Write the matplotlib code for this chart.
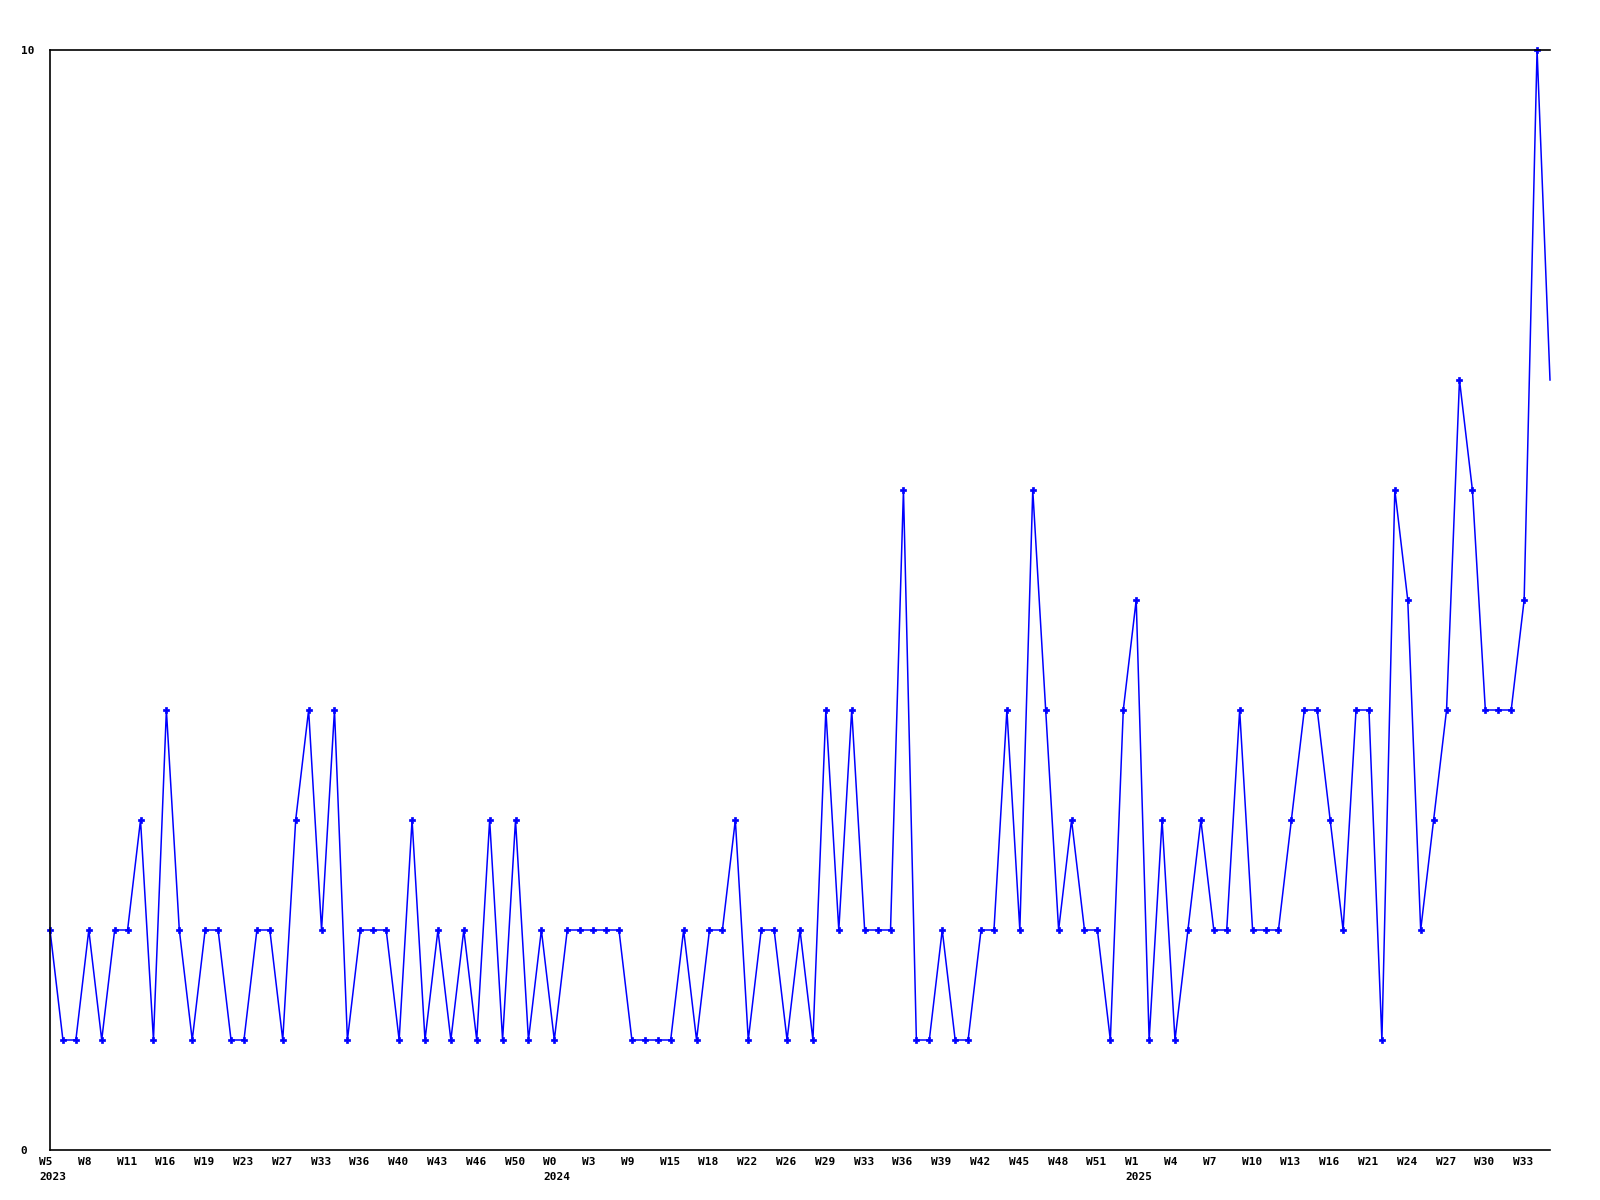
import matplotlib
matplotlib.use('Agg')
import matplotlib.pyplot as plt
import matplotlib.transforms as mtransforms

# weekly counts (weeks without entries are not plotted)
values = [2, 1, 1, 2, 1, 2, 2, 3, 1, 4, 2, 1, 2, 2, 1, 1, 2, 2, 1, 3,
          4, 2, 4, 1, 2, 2, 2, 1, 3, 1, 2, 1, 2, 1, 3, 1, 3, 1, 2, 1,
          2, 2, 2, 2, 2, 1, 1, 1, 1, 2, 1, 2, 2, 3, 1, 2, 2, 1, 2, 1,
          4, 2, 4, 2, 2, 2, 6, 1, 1, 2, 1, 1, 2, 2, 4, 2, 6, 4, 2, 3,
          2, 2, 1, 4, 5, 1, 3, 1, 2, 3, 2, 2, 4, 2, 2, 2, 3, 4, 4, 3,
          2, 4, 4, 1, 6, 5, 2, 3, 4, 7, 6, 4, 4, 4, 5, 10, 7]

# a label every third point
week_labels = ['W5', 'W8', 'W11', 'W16', 'W19', 'W23', 'W27', 'W33', 'W36', 'W40',
               'W43', 'W46', 'W50',
               'W0', 'W3', 'W9', 'W15', 'W18', 'W22', 'W26', 'W29', 'W33', 'W36',
               'W39', 'W42', 'W45', 'W48', 'W51',
               'W1', 'W4', 'W7', 'W10', 'W13', 'W16', 'W21', 'W24', 'W27', 'W30', 'W33']
year_labels = ['2023', '2024', '2025']
year_label_idx = [0, 13, 28]

font = {'family': 'DejaVu Sans Mono', 'weight': 'bold', 'size': 8}

fig = plt.figure(figsize=(16, 12), dpi=100)
ax = fig.add_axes([50 / 1600, 50 / 1200, 1500 / 1600, 1100 / 1200])

x = list(range(len(values)))
ax.plot(x, values, color='#0000ff', linewidth=1.1, marker='P', markersize=4.5,
        markeredgewidth=0.5, markevery=list(range(len(values) - 1)), clip_on=False)

ax.set_xlim(0, len(values) - 1)
ax.set_ylim(0, 10)

ax.spines['right'].set_visible(False)
for s in ['left', 'bottom', 'top']:
    ax.spines[s].set_linewidth(1.2)
    ax.spines[s].set_color('black')

ax.set_yticks([0, 10])
ax.set_yticklabels(['0', '10'], fontdict=font, ha='left')
ax.tick_params(axis='y', length=0, pad=21)

ticks = list(range(0, len(values), 3))
ax.set_xticks(ticks)
ax.set_xticklabels(week_labels, fontdict=font, ha='left')
ax.tick_params(axis='x', length=0, pad=5)
offset = mtransforms.ScaledTranslation(-11 / 100, 0, fig.dpi_scale_trans)
for lab in ax.get_xticklabels():
    lab.set_transform(lab.get_transform() + offset)

trans = mtransforms.blended_transform_factory(ax.transData, ax.transAxes)
for yl, idx in zip(year_labels, year_label_idx):
    ax.text(ticks[idx], 0, yl, transform=trans + mtransforms.ScaledTranslation(-11 / 100, -22 / 100, fig.dpi_scale_trans),
            ha='left', va='top', **font)

fig.savefig('out.png', dpi=100)
